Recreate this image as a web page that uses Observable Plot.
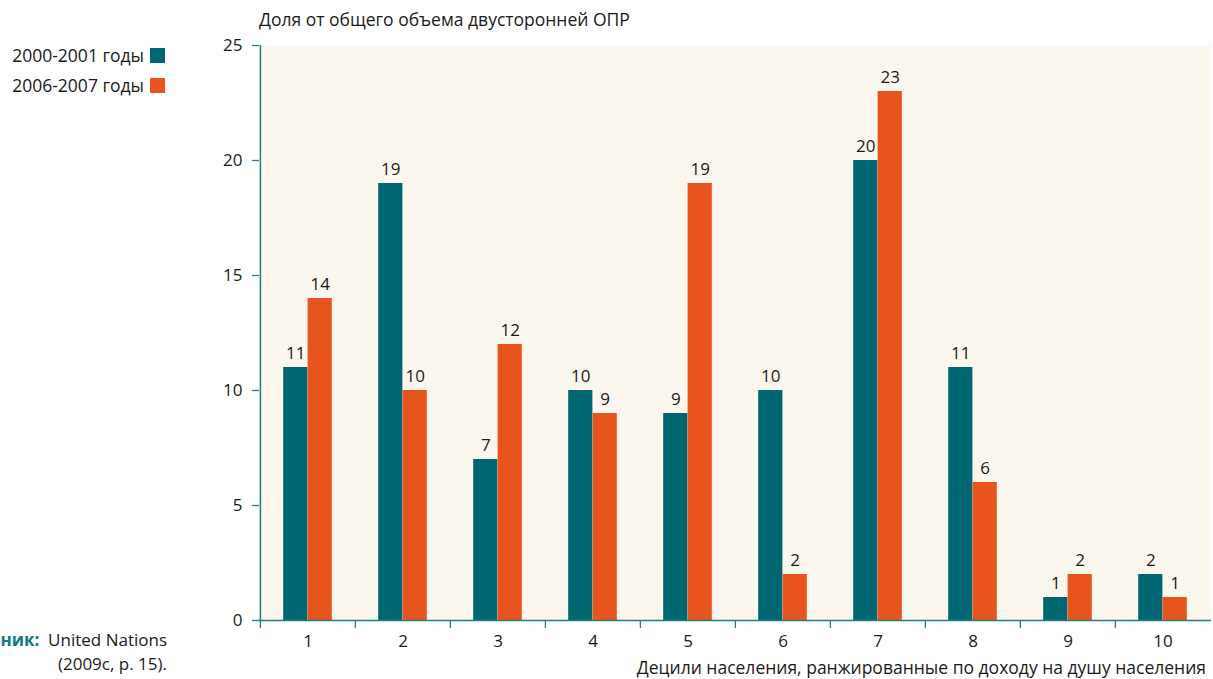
<!DOCTYPE html>
<html>
<head>
<meta charset="utf-8">
<script src="https://cdn.jsdelivr.net/npm/d3@7"></script>
<script src="https://cdn.jsdelivr.net/npm/@observablehq/plot@0.6"></script>
<style>
  html, body { margin: 0; padding: 0; background: #fff; }
  #wrap { position: relative; width: 1213px; height: 679px; overflow: hidden; font-family: "Open Sans", sans-serif; color: #1a1a1a; }
  #chart { position: absolute; left: 200px; top: 0; }
  .legend { position: absolute; right: 1048px; font-size: 17.5px; line-height: 22px; white-space: nowrap; display: flex; align-items: center; }
  .legend span.sw { display: inline-block; width: 15px; height: 15px; margin-left: 6px; }
  #ytitle { position: absolute; left: 259px; top: 7px; font-size: 17.5px; line-height: 24px; white-space: nowrap; }
  #xtitle { position: absolute; right: 7px; top: 655px; font-size: 17.5px; line-height: 24px; white-space: nowrap; }
  .source { position: absolute; right: 1046px; font-size: 17px; text-align: right; white-space: nowrap; line-height: 23px; }
  .source b { color: #0f7a80; }
</style>
</head>
<body>
<div id="wrap">
  <div class="legend" style="top:44px">2000-2001 годы<span class="sw" style="background:#006770"></span></div>
  <div class="legend" style="top:74px">2006-2007 годы<span class="sw" style="background:#e8541e"></span></div>
  <div id="ytitle">Доля от общего объема двусторонней ОПР</div>
  <div id="xtitle">Децили населения, ранжированные по доходу на душу населения</div>
  <div class="source" style="top:628px"><b>Источник:</b>&nbsp; United Nations</div>
  <div class="source" style="top:652px">(2009c, p. 15).</div>
  <div id="chart"></div>
</div>
<script>
const deciles = ["1","2","3","4","5","6","7","8","9","10"];
const series = ["2000-2001 годы", "2006-2007 годы"];
const values2000 = [11, 19, 7, 10, 9, 10, 20, 11, 1, 2];
const values2006 = [14, 10, 12, 9, 19, 2, 23, 6, 2, 1];
const yTicks = [0, 5, 10, 15, 20, 25];

const teal = "#006770", orange = "#e8541e", axisColor = "#1f7f85";
const d2000 = deciles.map((d, i) => ({decile: d, value: values2000[i]}));
const d2006 = deciles.map((d, i) => ({decile: d, value: values2006[i]}));

const W = 1013, H = 679;
const mL = 59, mR = 2, mT = 45, mB = 59;
const step = (W - mL - mR) / deciles.length;
const barW = 24.4;
const inner = step / 2 - barW;

const chart = Plot.plot({
  width: W, height: H,
  marginLeft: mL, marginRight: mR, marginTop: mT, marginBottom: mB,
  style: {fontFamily: "Open Sans, sans-serif", fontSize: "17px", color: "#1a1a1a", background: "transparent"},
  x: {domain: deciles, padding: 0, label: null},
  y: {domain: [0, 25], label: null},
  marks: [
    Plot.frame({fill: "#fbf7ee", stroke: null}),
    Plot.barY(d2000, {x: "decile", y: "value", fill: teal, insetLeft: inner, insetRight: step / 2}),
    Plot.barY(d2006, {x: "decile", y: "value", fill: orange, insetLeft: step / 2, insetRight: inner}),
    Plot.text(d2000, {x: "decile", y: "value", text: d => String(d.value), dx: -barW / 2, dy: -14, fontSize: 17}),
    Plot.text(d2006, {x: "decile", y: "value", text: d => String(d.value), dx: barW / 2, dy: -14, fontSize: 17}),
    Plot.axisY({ticks: yTicks, tickSize: 7, tickPadding: 10, stroke: axisColor, strokeWidth: 1.3, tickFormat: d => String(d), fill: "#1a1a1a", fontSize: 17}),
    Plot.axisX({tickSize: 8, dx: -step / 2, tickFormat: () => "", stroke: axisColor, strokeWidth: 1.3}),
    Plot.axisX({tickSize: 0, tickPadding: 14, fill: "#1a1a1a", fontSize: 17}),
    Plot.ruleY([0], {stroke: axisColor, strokeWidth: 1.5}),
    Plot.ruleX([0], {x: () => deciles[0], y1: 0, y2: 25, dx: -step / 2, stroke: axisColor, strokeWidth: 1.5})
  ]
});
document.getElementById("chart").appendChild(chart);
</script>
</body>
</html>
